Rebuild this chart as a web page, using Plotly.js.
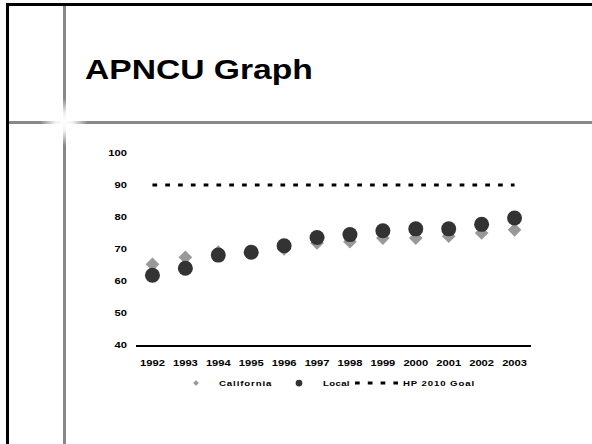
<!DOCTYPE html>
<html>
<head>
<meta charset="utf-8">
<script src="https://cdn.plot.ly/plotly-3.0.1.min.js"></script>
<style>
  html, body { margin: 0; padding: 0; background: #fff; }
  #wrap { position: relative; width: 592px; height: 444px; overflow: hidden; }
  .deco { position: absolute; }
  #chart { position: absolute; left: 0; top: 0; width: 592px; height: 444px; z-index: 2; }
</style>
</head>
<body>
<div id="wrap">
  <!-- slide frame -->
  <div class="deco" style="left:6px;top:3px;width:586px;height:3px;background:#000;"></div>
  <div class="deco" style="left:6px;top:3px;width:3px;height:441px;background:#000;"></div>
  <div class="deco" style="left:63px;top:6px;width:2.5px;height:438px;background:#888;"></div>
  <div class="deco" style="left:9px;top:121px;width:583px;height:3px;background:#888;"></div>
  <div class="deco" style="left:40px;top:98px;width:48px;height:48px;background:radial-gradient(circle at center, rgba(255,255,255,1) 0%, rgba(255,255,255,0.9) 25%, rgba(255,255,255,0) 70%);"></div>
  <div id="chart"></div>
</div>
<script>
// APNCU rates by year
const years = ['1992', '1993', '1994', '1995', '1996', '1997', '1998', '1999', '2000', '2001', '2002', '2003'];
const california = [65.2, 67.4, 69.0, 69.0, 70.0, 71.9, 72.3, 73.4, 73.4, 74.0, 75.0, 76.0];
const local = [61.8, 64.0, 68.1, 69.0, 71.0, 73.6, 74.5, 75.7, 76.3, 76.3, 77.7, 79.7];
const goal = [90, 90, 90, 90, 90, 90, 90, 90, 90, 90, 90, 90];
const yTicks = [40, 50, 60, 70, 80, 90, 100];

const FONT = 'Liberation Sans, Arial, sans-serif';
const W = 592, H = 444;
const M = { l: 136, r: 61, t: 153, b: 99 };
const plotW = W - M.l - M.r, plotH = H - M.t - M.b;
// pixel -> paper helpers for placing the legends
const px = v => (v - M.l) / plotW;
const py = v => (H - M.b - v) / plotH;

const legendFont = { family: FONT, size: 8, weight: 'bold', color: '#000' };
const legendBase = { orientation: 'h', xanchor: 'left', yanchor: 'middle', y: py(383),
  font: legendFont, bgcolor: 'rgba(0,0,0,0)', borderwidth: 0 };

const traces = [
  {
    name: 'California', x: years, y: california, type: 'scatter', mode: 'markers',
    legend: 'legend',
    marker: { symbol: 'diamond', size: 10.5, color: '#999999', line: { width: 0 } }
  },
  {
    name: 'Local', x: years, y: local, type: 'scatter', mode: 'markers',
    legend: 'legend2',
    marker: { symbol: 'circle', size: 15, color: '#333333', line: { width: 0 } }
  },
  {
    name: 'HP 2010 Goal', x: years, y: goal, type: 'scatter', mode: 'lines',
    legend: 'legend3',
    line: { color: '#000000', width: 3, dash: '4.7px,8.1px' }
  }
];

const layout = {
  width: W, height: H,
  margin: M,
  paper_bgcolor: 'rgba(0,0,0,0)',
  plot_bgcolor: 'rgba(0,0,0,0)',
  font: { family: FONT, color: '#000' },
  title: {
    text: 'APNCU Graph',
    font: { family: FONT, size: 28, weight: 'bold', color: '#000' },
    xref: 'container', yref: 'container',
    x: 85 / W, xanchor: 'left',
    y: 1 - 69 / H, yanchor: 'middle'
  },
  xaxis: {
    type: 'category', range: [-0.5, 11.5],
    showline: true, linecolor: '#000', linewidth: 2,
    showgrid: false, zeroline: false, ticks: '',
    ticklabelstandoff: 8,
    tickfont: { family: FONT, size: 9.3, weight: 'bold', color: '#000' },
    fixedrange: true
  },
  yaxis: {
    range: [40, 100], tickvals: yTicks, ticktext: yTicks.map(String),
    showline: false, showgrid: false, zeroline: false, ticks: '',
    ticklabelstandoff: 8,
    tickfont: { family: FONT, size: 9.3, weight: 'bold', color: '#000' },
    fixedrange: true
  },
  showlegend: true,
  legend: Object.assign({}, legendBase, { x: px(173), itemwidth: 36 }),
  legend2: Object.assign({}, legendBase, { x: px(275), itemwidth: 38 }),
  legend3: Object.assign({}, legendBase, { x: px(350), itemwidth: 43 })
};

const STRETCH = 1.2;
const symScale = { diamond: 0.42, circle: 0.45 };
const legendSpacing = { 'California': '0.75px', 'Local': '0.3px', 'HP 2010 Goal': '0.75px' };
const LEGEND_TEXT = '.legendtext, .legend2text, .legend3text';
const LEGEND_BOX = '.legend, .legend2, .legend3';

// widen the lettering horizontally, keeping each label's anchor in place
function widen(node, factor, spacing) {
  if (node.getAttribute('lengthAdjust') === 'spacingAndGlyphs') return;
  if (spacing) node.style.letterSpacing = spacing;
  const len = node.getComputedTextLength();
  if (len > 0) {
    node.setAttribute('textLength', (len * factor).toFixed(2));
    node.setAttribute('lengthAdjust', 'spacingAndGlyphs');
  }
}

function restyleText(gd) {
  gd.querySelectorAll('text.gtitle, .xtick text, .ytick text')
    .forEach(t => widen(t, STRETCH));
  gd.querySelectorAll(LEGEND_TEXT)
    .forEach(t => widen(t, STRETCH, legendSpacing[t.textContent] || '0.75px'));
  // let the widened legend labels show in full
  gd.querySelectorAll('[clip-path]').forEach(el => {
    if (el.querySelector(LEGEND_TEXT)) el.removeAttribute('clip-path');
  });
  // small legend symbols
  gd.querySelectorAll('path.scatterpts').forEach(p => {
    if (!p.closest(LEGEND_BOX) || p.getAttribute('data-small')) return;
    p.setAttribute('data-small', '1');
    const tr = p.getAttribute('transform') || '';
    const s = (p.getAttribute('d') || '').indexOf('A') >= 0 ? symScale.circle : symScale.diamond;
    p.setAttribute('transform', tr + ' scale(' + s + ')');
  });
}

const chartDiv = document.getElementById('chart');
// re-apply whenever the chart redraws any of its parts
new MutationObserver(() => restyleText(chartDiv))
  .observe(chartDiv, { childList: true, subtree: true });

Plotly.newPlot(chartDiv, traces, layout, { displayModeBar: false, staticPlot: true }).then(gd => {
  restyleText(gd);
  [0, 100, 400].forEach(ms => setTimeout(() => restyleText(gd), ms));
});
</script>
</body>
</html>
